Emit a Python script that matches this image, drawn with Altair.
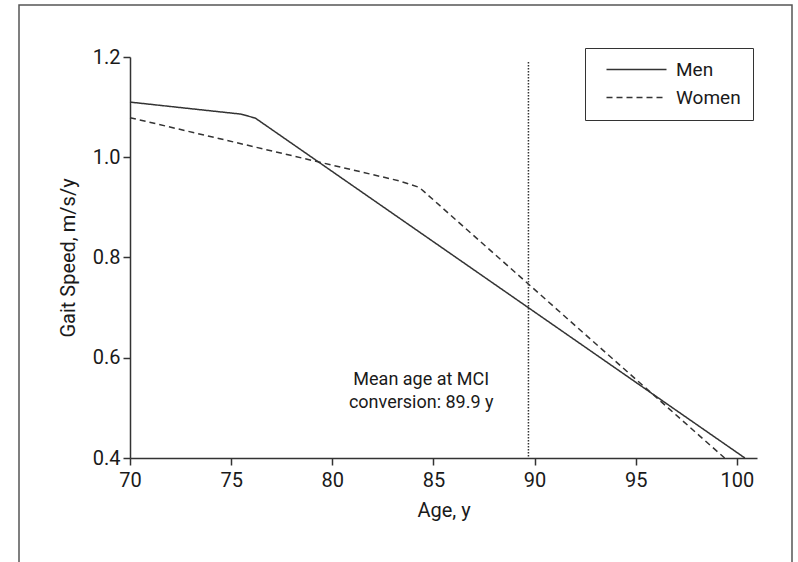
import altair as alt
import pandas as pd

# ---- data ----
men_age = [70.0, 75.5, 76.2, 100.4]
men_speed = [1.110, 1.086, 1.078, 0.400]
women_age = [70.0, 83.3, 84.3, 99.4]
women_speed = [1.079, 0.953, 0.940, 0.400]
mci_age = 89.7
mci_top = 1.19
annot_x = 84.4
annot_y = 0.546
annot_text = "Mean age at MCI\nconversion: 89.9 y"
x_ticks = [70, 75, 80, 85, 90, 95, 100]
y_ticks = [0.4, 0.6, 0.8, 1.0, 1.2]

FONT = "Roboto, Liberation Sans, sans-serif"
INK = "#333333"
TXT = "#1a1a1a"

lines_df = pd.DataFrame(
    {
        "age": men_age + women_age,
        "speed": men_speed + women_speed,
        "sex": ["Men"] * len(men_age) + ["Women"] * len(women_age),
        "order": list(range(len(men_age))) + list(range(len(women_age))),
    }
)

xscale = alt.Scale(domain=[70, 101], nice=False, zero=False)
yscale = alt.Scale(domain=[0.4, 1.2], nice=False, zero=False)

frame = alt.Chart(pd.DataFrame({"k": [0]})).mark_rect(
    fill=None, stroke="#555555", strokeWidth=1.5
).encode(
    x=alt.value(-111), x2=alt.value(662), y=alt.value(-52), y2=alt.value(530)
)

lines = alt.Chart(lines_df).mark_line(color=INK, strokeWidth=1.5).encode(
    x=alt.X(
        "age:Q",
        scale=xscale,
        axis=alt.Axis(title="Age, y", values=x_ticks, format="d"),
    ),
    y=alt.Y(
        "speed:Q",
        scale=yscale,
        axis=alt.Axis(title="Gait Speed, m/s/y", values=y_ticks, format=".1f"),
    ),
    strokeDash=alt.StrokeDash(
        "sex:N",
        scale=alt.Scale(domain=["Men", "Women"], range=[[1, 0], [6, 4]]),
        legend=alt.Legend(
            title=None,
            orient="none",
            legendX=455,
            legendY=-9,
            strokeColor=INK,
            padding=12,
            symbolType="M-4,0H4",
            symbolSize=225,
            symbolStrokeWidth=1.5,
            symbolStrokeColor=INK,
            symbolOffset=30,
            labelFont=FONT,
            labelFontSize=19,
            labelColor=TXT,
            labelOffset=30,
            rowPadding=8,
        ),
    ),
    order="order:Q",
)

mci_df = pd.DataFrame({"age": [mci_age], "top": [mci_top], "bottom": [0.4]})
mci = alt.Chart(mci_df).mark_rule(color=INK, strokeWidth=1.5, strokeDash=[1.5, 1.5]).encode(
    x=alt.X("age:Q", scale=xscale),
    y=alt.Y("top:Q", scale=yscale),
    y2="bottom:Q",
)

annot_df = pd.DataFrame({"age": [annot_x], "speed": [annot_y], "label": [annot_text]})
annot = alt.Chart(annot_df).mark_text(
    font=FONT, fontSize=18, color=TXT, align="center", baseline="alphabetic",
    lineBreak="\n", lineHeight=23,
).encode(
    x=alt.X("age:Q", scale=xscale),
    y=alt.Y("speed:Q", scale=yscale),
    text="label:N",
)

chart = (
    alt.layer(frame, lines, mci, annot)
    .properties(
        width=627,
        height=401,
        autosize="none",
        padding={"left": 130, "top": 57, "right": 41, "bottom": 104},
        background="white",
    )
    .configure_view(stroke=None)
    .configure_axis(
        grid=False,
        domainColor=INK,
        domainWidth=1.5,
        tickColor=INK,
        tickWidth=1.5,
        tickSize=7,
        labelFont=FONT,
        labelFontSize=20,
        labelColor=TXT,
        labelFlush=False,
        titleFont=FONT,
        titleFontSize=20,
        titleFontWeight="normal",
        titleColor=TXT,
    )
    .configure_axisX(labelPadding=5, titlePadding=10)
    .configure_axisY(labelPadding=3, titlePadding=14)
)

chart.save("out.html", embed_options={"renderer": "svg", "actions": False})
